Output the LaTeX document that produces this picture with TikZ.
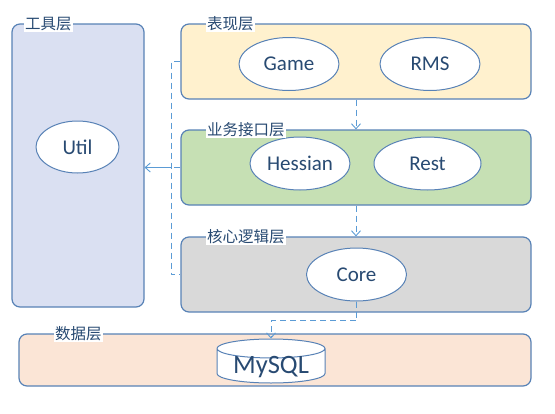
\documentclass[tikz,border=0pt]{standalone}
\usepackage{fontspec}
\setmainfont{Carlito}
\newfontfamily\cjk{Noto Sans CJK SC}
\usetikzlibrary{shapes.geometric,arrows.meta}
\definecolor{edge}{RGB}{88,130,182}
\definecolor{linkblue}{RGB}{91,155,213}
\definecolor{ink}{RGB}{40,74,114}
\definecolor{toolfill}{RGB}{218,224,242}
\definecolor{presfill}{RGB}{255,241,206}
\definecolor{bizfill}{RGB}{198,224,180}
\definecolor{corefill}{RGB}{217,217,217}
\definecolor{datafill}{RGB}{251,229,214}
\begin{document}
\begin{tikzpicture}[x=1pt,y=-1pt,line join=round,>={Straight Barb[length=5pt,width=9pt]}]
	\tikzset{layer/.style={draw=edge,line width=1.2pt,rounded corners=8pt,inner sep=0pt},
		tag/.style={fill=white,inner sep=1pt,anchor=west,text=ink,font=\cjk\fontsize{15.5}{15.5}\selectfont},
		comp/.style={ellipse,draw=edge,line width=1pt,fill=white,inner sep=0pt,text=ink,font=\fontsize{21}{21}\selectfont},
		link/.style={draw=linkblue,line width=0.9pt,dash pattern=on 6pt off 4pt}}
	\useasboundingbox (0,0) rectangle (555,413);
	\node[layer,fill=toolfill,minimum width=132pt,minimum height=283pt] (toolL) at (78,165.5) {};
	\node[layer,fill=presfill,minimum width=350pt,minimum height=75pt] (presL) at (356,61.5) {};
	\node[layer,fill=bizfill,minimum width=350pt,minimum height=75pt] (bizL) at (356,167.5) {};
	\node[layer,fill=corefill,minimum width=350pt,minimum height=75pt] (coreL) at (356,274.5) {};
	\node[layer,fill=datafill,minimum width=512pt,minimum height=52pt] (dataL) at (275,360) {};
	\node[comp,minimum width=83pt,minimum height=52pt] (util) at (77.5,147) {Util};
	\node[comp,minimum width=100pt,minimum height=53pt] (game) at (289,64) {Game};
	\node[comp,minimum width=100pt,minimum height=53pt] (rms) at (430,64) {RMS};
	\node[comp,minimum width=100pt,minimum height=53pt] (hessian) at (300,163.5) {Hessian};
	\node[comp,minimum width=107pt,minimum height=53pt] (rest) at (427.5,163.5) {Rest};
	\node[comp,minimum width=100pt,minimum height=53pt] (core) at (356.5,274.5) {Core};
	\node[cylinder,shape border rotate=90,aspect=0.25,anchor=shape center,draw=edge,line width=1pt,fill=white,inner sep=0pt,minimum width=108pt,minimum height=44pt,text=ink,font=\fontsize{26.5}{26.5}\selectfont] (mysql) at (271,361) {\raisebox{-8pt}[0pt][0pt]{MySQL}};
	\draw[link,->] (presL.south) -- (bizL.north);
	\draw[link,->] (bizL.south) -- (coreL.north);
	\draw[link,->] (core.south) -- ++(0,19) -| (mysql.north);
	\draw[link] (presL.west) -- ++(-9,0) |- (coreL.west);
	\draw[link] (bizL.west) -- ++(-9,0) coordinate (hub);
	\draw[->,draw=linkblue,line width=0.9pt] (hub) -- (hub -| toolL.east);
	\node[tag] at (24,24) {工具层};
	\node[tag] at (206,24) {表现层};
	\node[tag] at (206,130) {业务接口层};
	\node[tag] at (206,237) {核心逻辑层};
	\node[tag] at (54,334) {数据层};
\end{tikzpicture}
\end{document}
